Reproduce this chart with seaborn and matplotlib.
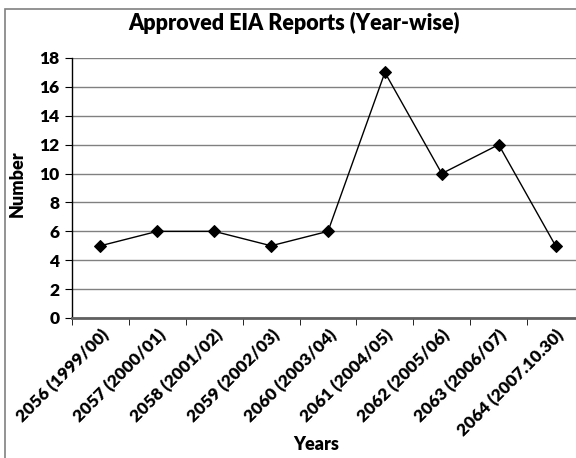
import numpy as np
import pandas as pd
import seaborn as sns
import matplotlib.pyplot as plt
from matplotlib.patches import Rectangle

# data
years = ["2056 (1999/00)", "2057 (2000/01)", "2058 (2001/02)", "2059 (2002/03)",
         "2060 (2003/04)", "2061 (2004/05)", "2062 (2005/06)", "2063 (2006/07)",
         "2064 (2007.10.30)"]
reports = [5, 6, 6, 5, 6, 17, 10, 12, 5]
y_ticks = list(range(0, 19, 2))

df = pd.DataFrame({"pos": np.arange(len(years)), "Number": reports})

sns.set_style("white")
plt.rcParams["font.family"] = ["Lato", "DejaVu Sans"]
plt.rcParams["text.color"] = "black"
plt.rcParams["axes.labelcolor"] = "black"
plt.rcParams["xtick.color"] = "black"
plt.rcParams["ytick.color"] = "black"
W = "heavy"

fig = plt.figure(figsize=(5.76, 4.58), dpi=100)
ax = fig.add_axes([72 / 576, 140 / 458, 512 / 576, 260 / 458])

# outer chart frame (cut off at right and bottom)
fig.patches.append(Rectangle((5 / 576, -0.1), 1.2, (458 - 9) / 458 + 0.1,
                             transform=fig.transFigure, fill=False,
                             edgecolor="#808080", linewidth=1.2))

sns.lineplot(data=df, x="pos", y="Number", ax=ax, color="black", linewidth=1,
             marker="D", markersize=6.5, markeredgecolor="black")

ax.set_xlim(-0.5, len(years) - 0.5)
ax.set_ylim(0, 18)
ax.set_yticks(y_ticks)
ax.set_yticklabels([str(v) for v in y_ticks], fontsize=12.5, fontweight=W)
ax.yaxis.grid(True, color="#808080", linewidth=1)
ax.set_axisbelow(True)

ax.set_xticks(np.arange(len(years)))
ax.set_xticklabels(years, rotation=45, ha="right", rotation_mode="anchor",
                   fontsize=12.5, fontweight=W)
ax.tick_params(axis="x", which="major", length=0, pad=6)
ax.set_xticks(np.arange(len(years) + 1) - 0.5, minor=True)
ax.tick_params(axis="x", which="minor", length=5, direction="out", color="black",
               bottom=True)
ax.tick_params(axis="y", length=5, direction="out", color="black", left=True, pad=4)

for side in ["top", "right"]:
    ax.spines[side].set_visible(False)
ax.spines["left"].set_color("black")
ax.spines["left"].set_linewidth(1)
ax.spines["bottom"].set_color("#606060")
ax.spines["bottom"].set_linewidth(2)

ax.set_xlabel("Years", fontsize=13, fontweight=W)
ax.set_ylabel("Number", fontsize=13, fontweight=W)
ax.xaxis.set_label_coords(0.477, -0.455)
ax.yaxis.set_label_coords(-0.09, 0.515)
fig.suptitle("Approved EIA Reports (Year-wise)", x=294 / 576, y=1 - 30 / 458,
             va="baseline", fontsize=15.5, fontweight=W)

fig.savefig("out.png", dpi=100)
